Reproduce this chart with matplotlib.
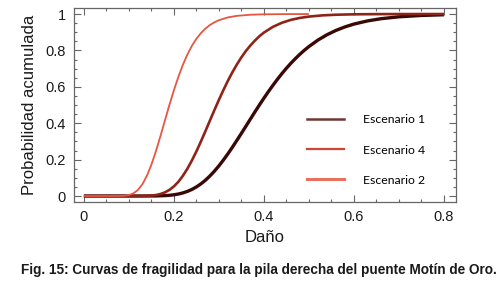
import matplotlib
matplotlib.use("Agg")
import matplotlib.pyplot as plt
from matplotlib.lines import Line2D
from matplotlib.ticker import MultipleLocator

# values
dano_esc1 = [0.0, 0.10, 0.14, 0.16, 0.18, 0.19, 0.20, 0.21, 0.22, 0.23, 0.24, 0.25,
             0.26, 0.27, 0.28, 0.29, 0.30, 0.31, 0.32, 0.33, 0.34, 0.35, 0.36, 0.37,
             0.38, 0.39, 0.40, 0.41, 0.42, 0.43, 0.44, 0.45, 0.46, 0.47, 0.48, 0.49,
             0.50, 0.52, 0.54, 0.56, 0.58, 0.60, 0.63, 0.66, 0.70, 0.75, 0.80]
prob_esc1 = [0.0, 0.0, 0.0001, 0.0005, 0.0021, 0.0039, 0.0067, 0.0109, 0.017, 0.0252,
             0.0361, 0.0498, 0.0666, 0.0866, 0.110, 0.1363, 0.1655, 0.1976, 0.2318,
             0.268, 0.3057, 0.3442, 0.3832, 0.4227, 0.4618, 0.500, 0.5374, 0.5734,
             0.608, 0.641, 0.6725, 0.702, 0.7295, 0.755, 0.779, 0.801, 0.8212, 0.8567,
             0.886, 0.9099, 0.9292, 0.9448, 0.9621, 0.9743, 0.9848, 0.9923, 0.9961]

dano_esc4 = [0.0, 0.10, 0.13, 0.14, 0.15, 0.16, 0.17, 0.18, 0.19, 0.20, 0.21, 0.22,
             0.23, 0.24, 0.25, 0.26, 0.27, 0.28, 0.29, 0.30, 0.31, 0.32, 0.33, 0.34,
             0.35, 0.36, 0.37, 0.38, 0.39, 0.40, 0.42, 0.44, 0.46, 0.48, 0.50, 0.53,
             0.56, 0.60, 0.65, 0.70, 0.80]
prob_esc4 = [0.0, 0.0, 0.0003, 0.001, 0.0024, 0.0054, 0.0108, 0.0198, 0.0334, 0.0527,
             0.0784, 0.111, 0.150, 0.195, 0.245, 0.299, 0.356, 0.414, 0.472, 0.528,
             0.582, 0.633, 0.680, 0.723, 0.762, 0.797, 0.827, 0.854, 0.878, 0.898,
             0.9295, 0.952, 0.968, 0.9787, 0.986, 0.9927, 0.9962, 0.9985, 0.9995,
             0.9999, 1.0]

dano_esc2 = [0.0, 0.06, 0.08, 0.09, 0.10, 0.11, 0.12, 0.13, 0.14, 0.15, 0.16, 0.17,
             0.18, 0.19, 0.20, 0.21, 0.22, 0.23, 0.24, 0.25, 0.26, 0.27, 0.28, 0.29,
             0.30, 0.32, 0.34, 0.37, 0.40, 0.45, 0.50]
prob_esc2 = [0.0, 0.0, 0.0003, 0.0014, 0.0051, 0.0144, 0.033, 0.0645, 0.111, 0.172,
             0.2457, 0.328, 0.4145, 0.500, 0.581, 0.655, 0.721, 0.7776, 0.825, 0.864,
             0.895, 0.920, 0.9396, 0.9546, 0.966, 0.9815, 0.990, 0.9962, 0.9986,
             0.9997, 1.0]

labels = ["Escenario 1", "Escenario 4", "Escenario 2"]

fig = plt.figure(figsize=(5.04, 2.84), dpi=100)
ax = fig.add_axes([0.1468, 0.2887, 0.758, 0.683])

ax.plot(dano_esc1, prob_esc1, color="#3a0906", lw=2.4, solid_capstyle="butt")
ax.plot(dano_esc4, prob_esc4, color="#8e2419", lw=1.9, solid_capstyle="butt")
ax.plot(dano_esc2, prob_esc2, color="#e65640", lw=1.3, solid_capstyle="butt")

ax.set_xlim(-0.022, 0.827)
ax.set_ylim(-0.033, 1.033)
ax.xaxis.set_minor_locator(MultipleLocator(0.05))
ax.yaxis.set_minor_locator(MultipleLocator(0.05))
ax.set_xticks([0, 0.2, 0.4, 0.6, 0.8])
ax.set_xticklabels(["0", "0.2", "0.4", "0.6", "0.8"])
ax.set_yticks([0, 0.2, 0.4, 0.6, 0.8, 1.0])
ax.set_yticklabels(["0", "0.2", "0.4", "0.6", "0.8", "1"])

ax.tick_params(which="both", direction="in", top=True, right=True, color="#666666",
               width=0.8, labelsize=10.5, labelcolor="#1a1a1a")
ax.tick_params(which="major", length=5, pad=6)
ax.tick_params(which="minor", length=2.5)
for s in ax.spines.values():
    s.set_color("#666666")
    s.set_linewidth(0.9)
for t in ax.get_xticklabels() + ax.get_yticklabels():
    t.set_fontfamily("Liberation Sans")

ax.set_xlabel("Daño", fontsize=12, family="Liberation Sans", color="#1a1a1a", labelpad=4)
ax.set_ylabel("Probabilidad acumulada", fontsize=12, family="Liberation Sans",
              color="#1a1a1a", labelpad=6)

handles = [
    Line2D([], [], color="#6e3634", lw=1.8),
    Line2D([], [], color="#cf4634", lw=1.6),
    Line2D([], [], color="#e8705c", lw=2.2),
]
ax.legend(handles, labels, loc="center left", bbox_to_anchor=(0.58, 0.268),
          frameon=False, prop={"family": "Lato", "size": 8.8},
          handlelength=3.1, handletextpad=1.5, labelspacing=1.57)

fig.text(0.514, 0.05, "Fig. 15: Curvas de fragilidad para la pila derecha del puente Motín de Oro.",
         ha="center", va="center", fontsize=9.8, fontweight="bold",
         family="Liberation Sans", color="#1a1a1a")

fig.savefig("out.png", dpi=100)
